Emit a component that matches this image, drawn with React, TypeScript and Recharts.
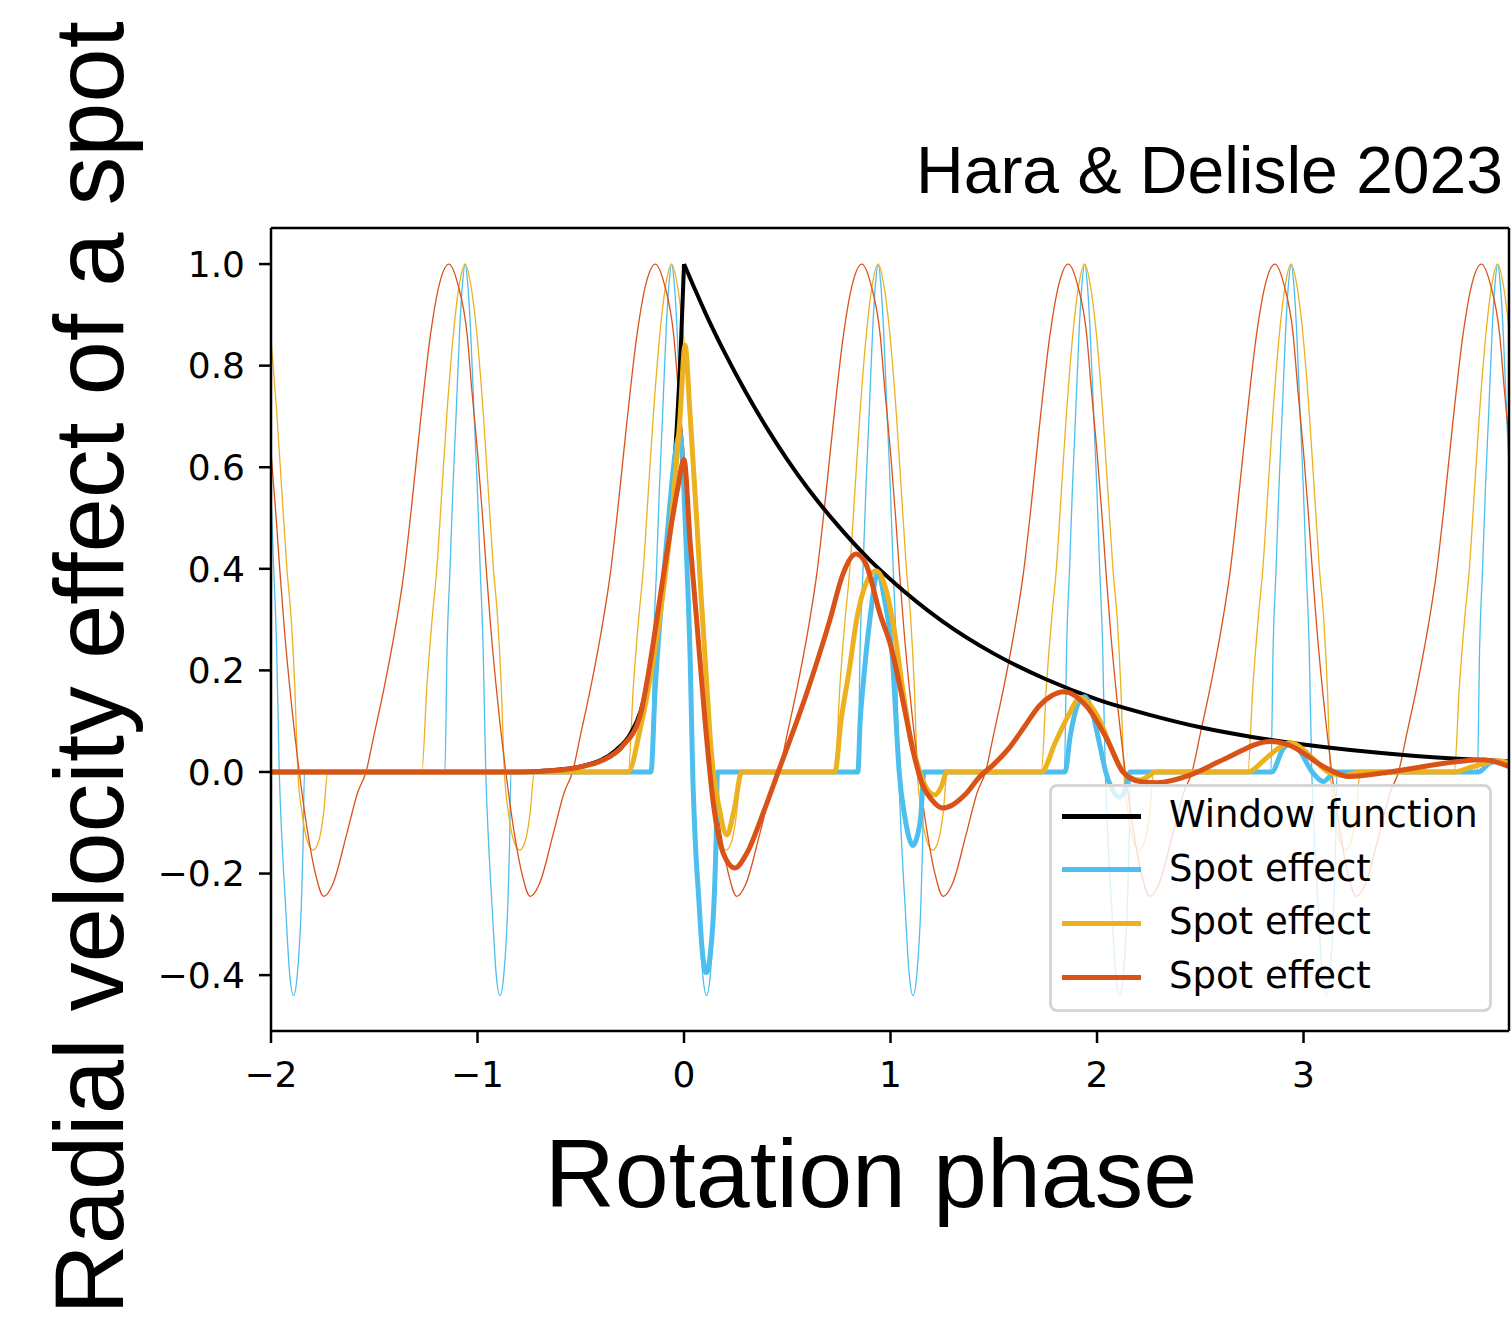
import { LineChart, Line, XAxis, YAxis, ReferenceLine } from 'recharts';

const X_MIN = -2;
const X_MAX = 3.995;
const Y_MIN = -0.51;
const Y_MAX = 1.071;

const X_TICKS = [-2, -1, 0, 1, 2, 3];
const Y_TICKS = [-0.4, -0.2, 0, 0.2, 0.4, 0.6, 0.8, 1.0];

const BLUE = '#4DBEEE';
const YELLOW = '#EDB120';
const RED = '#D95319';

// rotations the thin (unwindowed) spot curves repeat over
const ROTATIONS = [-2, -1, 0, 1, 2, 3, 4];

// one rotation of each unwindowed spot curve, [phase within rotation, rv]
const BLUE_PROFILE: [number, number][] = [
  [-0.158, 0], [-0.147, 0.25], [-0.133, 0.4], [-0.119, 0.56], [-0.104, 0.7], [-0.086, 0.874],
  [-0.073, 0.96], [-0.06, 1.0], [-0.047, 0.96], [-0.034, 0.874], [-0.016, 0.7], [-0.001, 0.56],
  [0.013, 0.4], [0.027, 0.25], [0.04, 0], [0.055, -0.15], [0.07, -0.26], [0.09, -0.396],
  [0.109, -0.44], [0.128, -0.396], [0.147, -0.26], [0.155, -0.15], [0.162, 0],
];
const YELLOW_PROFILE: [number, number][] = [
  [-0.27, 0], [-0.245, 0.17], [-0.22, 0.3], [-0.197, 0.4], [-0.173, 0.55], [-0.149, 0.7],
  [-0.114, 0.874], [-0.088, 0.96], [-0.06, 1.0], [-0.033, 0.96], [-0.006, 0.874], [0.029, 0.7],
  [0.053, 0.55], [0.077, 0.4], [0.098, 0.3], [0.115, 0.17], [0.13, 0], [0.15, -0.08],
  [0.175, -0.135], [0.204, -0.154], [0.232, -0.135], [0.255, -0.08], [0.275, 0],
];
const RED_PROFILE: [number, number][] = [
  [-0.54, 0], [-0.5, 0.075], [-0.45, 0.17], [-0.395, 0.29], [-0.357, 0.39], [-0.32, 0.52],
  [-0.279, 0.68], [-0.228, 0.86], [-0.185, 0.96], [-0.139, 1.0], [-0.095, 0.96], [-0.05, 0.86],
  [-0.027, 0.75], [0, 0.63], [0.025, 0.5], [0.044, 0.39], [0.065, 0.28], [0.1, 0.13],
  [0.137, 0], [0.178, -0.12], [0.215, -0.2], [0.255, -0.245], [0.3, -0.22], [0.368, -0.12],
  [0.42, -0.04],
];

// window function, split at the cusp so the peak stays sharp
const WINDOW_RISE: [number, number][] = [
  [-2, 0], [-0.8, 0], [-0.7, 0.002], [-0.6, 0.005], [-0.5, 0.011], [-0.4, 0.024], [-0.33, 0.043],
  [-0.26, 0.075], [-0.21, 0.12], [-0.165, 0.2], [-0.12, 0.31], [-0.084, 0.43], [-0.06, 0.54],
  [-0.035, 0.68], [-0.015, 0.84], [0, 1.0],
];
const WINDOW_DECAY: [number, number][] = [
  [0, 1.0], [0.05, 0.953], [0.1, 0.907], [0.2, 0.823], [0.3, 0.747], [0.4, 0.678], [0.5, 0.615],
  [0.6, 0.558], [0.75, 0.483], [0.9, 0.417], [1, 0.379], [1.25, 0.297], [1.5, 0.233],
  [1.75, 0.183], [2, 0.143], [2.25, 0.113], [2.5, 0.088], [2.75, 0.069], [3, 0.054],
  [3.5, 0.033], [4, 0.021],
];

// windowed spot effects (thick lines)
const BLUE_SPOT: [number, number][] = [
  [-2, 0], [-0.16, 0], [-0.14, 0.16], [-0.12, 0.28], [-0.1, 0.38], [-0.07, 0.52], [-0.045, 0.62],
  [-0.019, 0.667], [0, 0.55], [0.015, 0.4], [0.03, 0.22], [0.042, 0], [0.055, -0.14],
  [0.07, -0.24], [0.09, -0.36], [0.108, -0.395], [0.127, -0.36], [0.147, -0.24], [0.155, -0.14],
  [0.162, 0], [0.842, 0], [0.853, 0.1], [0.867, 0.17], [0.9, 0.3], [0.937, 0.39], [0.975, 0.33],
  [1.01, 0.22], [1.027, 0.1], [1.042, 0], [1.07, -0.09], [1.09, -0.13], [1.108, -0.145],
  [1.127, -0.13], [1.147, -0.085], [1.162, 0], [1.845, 0], [1.87, 0.07], [1.909, 0.135],
  [1.94, 0.148], [1.975, 0.12], [2.015, 0.05], [2.042, 0], [2.075, -0.035], [2.108, -0.05],
  [2.14, -0.03], [2.16, 0], [2.846, 0], [2.9, 0.045], [2.937, 0.056], [2.975, 0.045],
  [3.042, 0], [3.096, -0.019], [3.153, 0], [3.846, 0], [3.9, 0.017], [3.937, 0.021], [4.0, 0.015],
];
const YELLOW_SPOT: [number, number][] = [
  [-2, 0], [-0.27, 0], [-0.213, 0.083], [-0.17, 0.17], [-0.124, 0.286], [-0.09, 0.39],
  [-0.06, 0.503], [-0.019, 0.7], [0.005, 0.84], [0.03, 0.7], [0.061, 0.5], [0.085, 0.33],
  [0.11, 0.175], [0.13, 0.05], [0.142, 0], [0.17, -0.07], [0.207, -0.124], [0.245, -0.07],
  [0.279, 0], [0.731, 0], [0.76, 0.1], [0.8, 0.2], [0.836, 0.3], [0.88, 0.37], [0.93, 0.396],
  [0.97, 0.37], [1.022, 0.27], [1.06, 0.16], [1.1, 0.06], [1.127, 0.02], [1.15, -0.01],
  [1.215, -0.045], [1.25, -0.025], [1.272, 0], [1.73, 0], [1.8, 0.06], [1.86, 0.11],
  [1.918, 0.146], [1.96, 0.135], [2.015, 0.1], [2.07, 0.045], [2.126, 0], [2.15, -0.008],
  [2.208, -0.016], [2.25, -0.008], [2.281, 0], [2.733, 0], [2.8, 0.02], [2.85, 0.038],
  [2.9, 0.052], [2.937, 0.058], [2.98, 0.05], [3.05, 0.025], [3.12, 0], [3.2, -0.007],
  [3.27, 0], [3.73, 0], [3.8, 0.008], [3.87, 0.016], [3.937, 0.022], [4.0, 0.018],
];
const RED_SPOT: [number, number][] = [
  [-2, 0], [-0.8, 0], [-0.6, 0.004], [-0.5, 0.01], [-0.4, 0.022], [-0.3, 0.05], [-0.213, 0.11],
  [-0.17, 0.2], [-0.132, 0.3], [-0.095, 0.4], [-0.06, 0.49], [-0.03, 0.56], [0, 0.615],
  [0.03, 0.45], [0.061, 0.3], [0.102, 0.1], [0.142, -0.062], [0.19, -0.16], [0.247, -0.189],
  [0.304, -0.16], [0.384, -0.08], [0.465, 0.01], [0.594, 0.155], [0.707, 0.3], [0.77, 0.39],
  [0.833, 0.429], [0.88, 0.41], [0.95, 0.31], [1.0, 0.25], [1.06, 0.14], [1.11, 0.04],
  [1.15, -0.02], [1.2, -0.055], [1.253, -0.071], [1.3, -0.065], [1.36, -0.045], [1.433, -0.009],
  [1.5, 0.015], [1.58, 0.05], [1.65, 0.09], [1.72, 0.13], [1.78, 0.15], [1.84, 0.158],
  [1.95, 0.129], [2.05, 0.063], [2.126, 0], [2.21, -0.019], [2.29, -0.021], [2.45, -0.006],
  [2.61, 0.024], [2.84, 0.06], [2.93, 0.053], [3.1, 0.01], [3.22, -0.009], [3.42, 0],
  [3.74, 0.02], [3.87, 0.024], [4.0, 0.01],
];

const LEGEND_LABELS = ['Window function', 'Spot effect', 'Spot effect', 'Spot effect'];
const LEGEND_COLORS = ['#000000', BLUE, YELLOW, RED];

const toPoints = (arr: [number, number][]) => arr.map(([x, y]) => ({ x, y }));
const tile = (profile: [number, number][]) =>
  ROTATIONS.flatMap(k => profile.map(([u, y]) => ({ x: +(k + u).toFixed(4), y })));

const minus = (s: string) => s.replace('-', '\u2212');
const fmtX = (v: number) => minus(String(v));
const fmtY = (v: number) => minus(v.toFixed(1));

const TICK_FONT = 'DejaVu Sans, sans-serif';
const LABEL_FONT = '"Liberation Sans", Arial, Helvetica, sans-serif';

export default function App() {
  const thin = [
    { data: tile(BLUE_PROFILE), color: BLUE },
    { data: tile(YELLOW_PROFILE), color: YELLOW },
    { data: tile(RED_PROFILE), color: RED },
  ];
  const thick = [
    { data: toPoints(BLUE_SPOT), color: BLUE },
    { data: toPoints(YELLOW_SPOT), color: YELLOW },
    { data: toPoints(RED_SPOT), color: RED },
  ];

  return (
    <div style={{ position: 'relative', width: 1512, height: 1323, overflow: 'hidden', background: '#fff' }}>
      <style>{'html, body { margin: 0; padding: 0; overflow: hidden; }'}</style>
      <LineChart width={1512} height={1323} margin={{ top: 228, right: 3, bottom: 232, left: 171 }}>
        <XAxis
          type="number"
          dataKey="x"
          domain={[X_MIN, X_MAX]}
          allowDataOverflow
          ticks={X_TICKS}
          interval={0}
          tickFormatter={fmtX}
          height={60}
          tickSize={12}
          tickMargin={18}
          axisLine={{ stroke: '#000', strokeWidth: 2.5 }}
          tickLine={{ stroke: '#000', strokeWidth: 2.5 }}
          tick={{ fontSize: 36, fill: '#000', fontFamily: TICK_FONT }}
        />
        <YAxis
          type="number"
          domain={[Y_MIN, Y_MAX]}
          allowDataOverflow
          ticks={Y_TICKS}
          interval={0}
          tickFormatter={fmtY}
          width={100}
          tickSize={12}
          tickMargin={14}
          axisLine={{ stroke: '#000', strokeWidth: 2.5 }}
          tickLine={{ stroke: '#000', strokeWidth: 2.5 }}
          tick={{ fontSize: 36, fill: '#000', fontFamily: TICK_FONT }}
        />
        {thin.map((s, i) => (
          <Line key={'thin' + i} data={s.data} dataKey="y" type="monotone" stroke={s.color}
            strokeWidth={1.3} dot={false} activeDot={false} isAnimationActive={false} />
        ))}
        <Line data={toPoints(WINDOW_RISE)} dataKey="y" type="monotone" stroke="#000" strokeWidth={4}
          dot={false} activeDot={false} isAnimationActive={false} />
        <Line data={toPoints(WINDOW_DECAY)} dataKey="y" type="monotone" stroke="#000" strokeWidth={4}
          dot={false} activeDot={false} isAnimationActive={false} />
        {thick.map((s, i) => (
          <Line key={'thick' + i} data={s.data} dataKey="y" type="monotone" stroke={s.color}
            strokeWidth={5} dot={false} activeDot={false} isAnimationActive={false} />
        ))}
        <ReferenceLine y={Y_MAX} stroke="#000" strokeWidth={2.5} />
        <ReferenceLine x={X_MAX} stroke="#000" strokeWidth={2.5} />
      </LineChart>

      <div style={{
        position: 'absolute', left: 1049, top: 784, width: 443, height: 228, boxSizing: 'border-box',
        background: 'rgba(255,255,255,0.8)', border: '3px solid #d6d6d6', borderRadius: 8,
      }}>
        {LEGEND_LABELS.map((label, i) => (
          <div key={i} style={{ position: 'absolute', left: 10, top: 29 + i * 53.7, height: 0 }}>
            <div style={{ position: 'absolute', left: 0, top: -2.5, width: 79, height: 5, background: LEGEND_COLORS[i] }} />
            <div style={{
              position: 'absolute', left: 107, top: -23, lineHeight: '44px', fontSize: 37,
              fontFamily: TICK_FONT, color: '#000', whiteSpace: 'nowrap',
            }}>{label}</div>
          </div>
        ))}
      </div>

      <svg width={1512} height={1323} style={{ position: 'absolute', left: 0, top: 0, pointerEvents: 'none' }}>
        <text x={1503} y={193} textAnchor="end" fontSize={66} fontFamily={LABEL_FONT} fill="#000">
          Hara &amp; Delisle 2023
        </text>
        <text x={871} y={1207} textAnchor="middle" fontSize={97} fontFamily={LABEL_FONT} fill="#000">
          Rotation phase
        </text>
        <text transform="translate(123, 668) rotate(-90)" textAnchor="middle" fontSize={97.5}
          fontFamily={LABEL_FONT} fill="#000">
          Radial velocity effect of a spot
        </text>
      </svg>
    </div>
  );
}
